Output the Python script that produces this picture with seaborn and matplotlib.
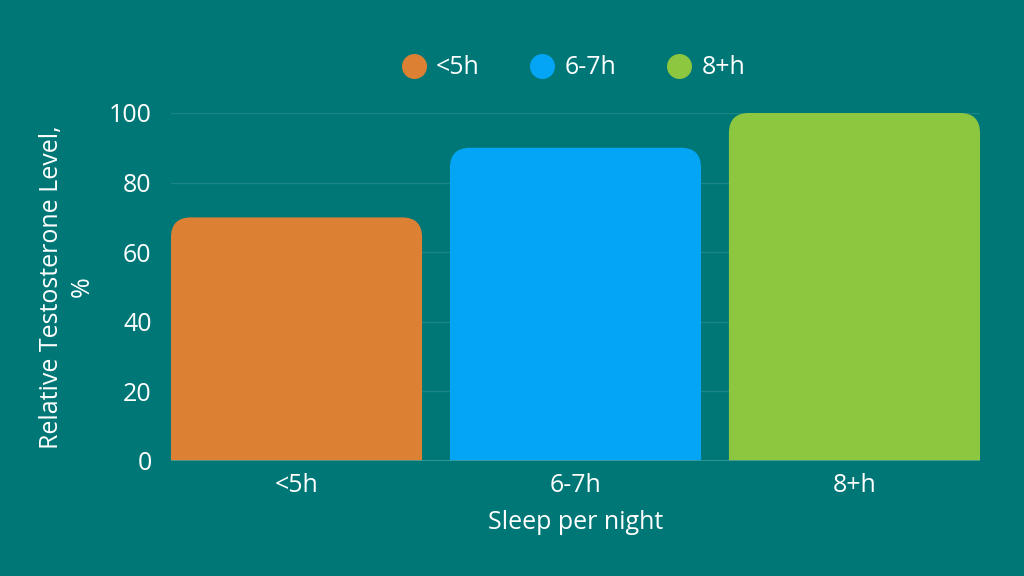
import matplotlib
matplotlib.use("Agg")
import matplotlib.pyplot as plt
import seaborn as sns
import pandas as pd
from matplotlib.patches import FancyBboxPatch
from matplotlib.lines import Line2D

# data
sleep = ['<5h', '6-7h', '8+h']
testosterone = [70, 90, 100]
colors = ['#DC8034', '#03A5F4', '#8DC63F']

bg = '#007777'
sns.set_style("white")
plt.rcParams['font.family'] = ['Open Sans', 'DejaVu Sans']

df = pd.DataFrame({'Sleep': sleep, 'Level': testosterone})

fig = plt.figure(figsize=(10.24, 5.76), dpi=100, facecolor=bg)
ax = fig.add_axes([171/1024, 1 - 461/576, (980 - 171)/1024, (461 - 113)/576])
ax.set_facecolor(bg)

sns.barplot(data=df, x='Sleep', y='Level', hue='Sleep', palette=colors,
            width=0.9, saturation=1, legend=False, ax=ax, zorder=3)

ax.set_xlim(-0.45, 2.45)
ax.set_ylim(0, 100)

# rounded tops: swap each bar for a rounded box, bottom clipped by the axes
px_x = ax.get_position().width * 1024 / 2.9
px_y = ax.get_position().height * 576 / 100
r = 20 / px_x
for p in list(ax.patches):
    x, w, h = p.get_x(), p.get_width(), p.get_height()
    fc = p.get_facecolor()
    p.remove()
    box = FancyBboxPatch((x, -10), w, h + 10,
                         boxstyle=f"round,pad=0,rounding_size={r}",
                         mutation_aspect=px_x / px_y,
                         facecolor=fc, edgecolor='none', zorder=3)
    ax.add_patch(box)

ax.set_yticks([0, 20, 40, 60, 80, 100])
ax.grid(axis='y', color='#1B8585', linewidth=1, zorder=0)
ax.axhline(0, color='#3A9A9A', linewidth=1.2, zorder=4)
sns.despine(ax=ax, left=True, bottom=True)

ax.tick_params(axis='both', length=0, labelsize=18, colors='white')
ax.tick_params(axis='y', pad=14)
ax.tick_params(axis='x', pad=9)
ax.set_xlabel('Sleep per night', color='white', fontsize=18, labelpad=8)
ax.set_ylabel('Relative Testosterone Level,\n%', color='white', fontsize=18,
              labelpad=10, linespacing=1.3)

handles = [Line2D([0], [0], marker='o', linestyle='none', markersize=18,
                  markerfacecolor=c, markeredgecolor='none') for c in colors]
leg = fig.legend(handles, sleep, loc='center', bbox_to_anchor=(572/1024, 1 - 68/576),
                 ncol=3, frameon=False, fontsize=18, labelcolor='white',
                 handletextpad=0.3, columnspacing=1.9, handlelength=1.2)

fig.savefig('out.png', dpi=100, facecolor=bg)
